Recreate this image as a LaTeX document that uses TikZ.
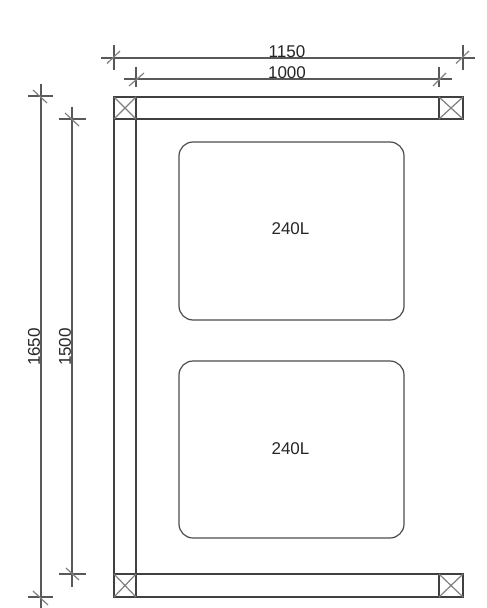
\documentclass[tikz,border=0pt]{standalone}
\usepackage{fontspec}
\setmainfont{Liberation Sans}
\tikzset{
  ln/.style={draw=black!75,line width=1.2bp},
  dimln/.style={draw=black!65,line width=1.2bp},
  tick/.style={draw=black!50,line width=1.2bp},
  lab/.style={font=\fontsize{17bp}{18bp}\selectfont,text=black!85,inner sep=0pt},
  bin/.style={draw=black!70,line width=1.2bp,rounded corners=14bp,minimum width=225bp,inner sep=0pt}
}
\begin{document}
\begin{tikzpicture}[x=1bp,y=-1bp]
\useasboundingbox[fill=white] (0,0) rectangle (487,608);
% frame
\coordinate (TL) at (114,97); \coordinate (TR) at (463,97);
\coordinate (TLi) at (136,119); \coordinate (TRi) at (439,119);
\coordinate (BL) at (114,597); \coordinate (BR) at (463,597);
\coordinate (BLi) at (136,574); \coordinate (BRi) at (439,574);
\draw[ln] (TL) rectangle (TR |- TLi);
\draw[ln] (BL) rectangle (BR |- BLi);
\draw[ln] (TL) -- (BL);
\draw[ln] (TL -| TLi) -- (BL -| BLi);
\draw[ln] (TL -| TRi) -- (TRi);
\draw[ln] (BRi) -- (BR -| BRi);
% crosses
\draw[tick] (TL) -- (TLi) (TL |- TLi) -- (TL -| TLi);
\draw[tick] (TL -| TRi) -- (TRi -| TR) (TRi) -- (TR);
\draw[tick] (BL |- BLi) -- (BL -| BLi) (BLi) -- (BL);
\draw[tick] (BRi) -- (BR) (BRi -| BR) -- (BR -| BRi);
% bins
\node[bin,minimum height=178bp] (bin1) at (291.5,231) {};
\node[bin,minimum height=177bp] (bin2) at (291.5,449.5) {};
\node[lab] (t1) at (290.5,229) {240L};
\node[lab] (t2) at (290.5,449) {240L};
% 1150
\coordinate (a1) at (101,58); \coordinate (a2) at (475,58);
\draw[dimln] (a1) -- (a2);
\draw[dimln] (114,45) -- (114,70) (463,45) -- (463,70);
\draw[tick] (107,63.5) -- (120,51) (456,63.5) -- (469,51);
\node[lab] (d1150) at (287,51.5) {1150};
% 1000
\coordinate (b1) at (124,79); \coordinate (b2) at (452,79);
\draw[dimln] (b1) -- (b2);
\draw[dimln] (136,67) -- (136,87) (439,67) -- (439,87);
\draw[tick] (129,86) -- (144,73) (433,86) -- (446,73);
\node[lab] (d1000) at (287,73) {1000};
% 1650
\coordinate (c1) at (41,84); \coordinate (c2) at (41,608);
\draw[dimln] (c1) -- (c2);
\draw[dimln] (28,96) -- (53,96) (28,597) -- (53,597);
\draw[tick] (33,90) -- (47,103) (33,591) -- (48,605);
\node[lab,rotate=90] (d1650) at (34,347) {1650};
% 1500
\coordinate (e1) at (72,107); \coordinate (e2) at (72,587);
\draw[dimln] (e1) -- (e2);
\draw[dimln] (59,119) -- (86,119) (59,574) -- (86,574);
\draw[tick] (65,113) -- (79,126) (66,568) -- (79,580);
\node[lab,rotate=90] (d1500) at (65,347) {1500};
\end{tikzpicture}
\end{document}
